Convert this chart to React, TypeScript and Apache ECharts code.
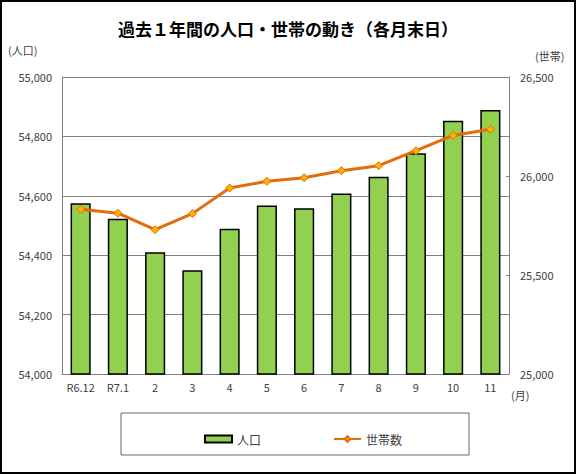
import { useEffect, useRef } from 'react'
import * as echarts from 'echarts'

// 月（カテゴリ）
const months = ['R6.12', 'R7.1', '2', '3', '4', '5', '6', '7', '8', '9', '10', '11']
// 人口（左軸）
const population = [54575, 54523, 54410, 54349, 54489, 54567, 54558, 54608, 54664, 54743, 54853, 54889]
// 世帯数（右軸）
const households = [25832, 25812, 25729, 25810, 25939, 25973, 25991, 26027, 26052, 26128, 26205, 26236]

const FONT = '"Noto Sans CJK JP", "Noto Sans", sans-serif'
const TEXT = '#404040'
const AXIS = '#808080'

/**
 * 過去1年間の人口・世帯の動き
 * 棒グラフ（人口・左軸）＋折れ線（世帯数・右軸）
 */
export default function App() {
  const ref = useRef<HTMLDivElement>(null)

  useEffect(() => {
    if (!ref.current) return
    const chart = echarts.init(ref.current, null, { renderer: 'svg' })

    const option: echarts.EChartsOption = {
      animation: false,
      backgroundColor: '#ffffff',
      textStyle: { fontFamily: FONT },

      title: {
        text: '過去１年間の人口・世帯の動き（各月末日）',
        left: 'center',
        top: 15,
        textStyle: { fontFamily: FONT, fontSize: 17, fontWeight: 'bold', color: '#000' },
      },

      grid: { left: 62, right: 67, top: 77, bottom: 100 },

      legend: {
        left: 199,
        top: 428,
        itemGap: 72,
        itemWidth: 27,
        itemHeight: 7,
        textStyle: { fontFamily: FONT, fontSize: 12, color: TEXT },
        data: [
          { name: '人口', icon: 'rect' },
          { name: '世帯数' },
        ],
      },

      xAxis: {
        type: 'category',
        data: months,
        axisLine: { lineStyle: { color: AXIS, width: 1 } },
        axisTick: { inside: true, length: 3, lineStyle: { color: AXIS } },
        axisLabel: { color: TEXT, fontSize: 11, margin: 7, fontFamily: FONT },
      },

      yAxis: [
        {
          type: 'value',
          min: 54000,
          max: 55000,
          interval: 200,
          axisLine: { show: true, lineStyle: { color: AXIS } },
          axisTick: { show: true, inside: true, length: 3, lineStyle: { color: AXIS } },
          axisLabel: {
            color: TEXT,
            fontSize: 11,
            margin: 10,
            fontFamily: FONT,
            formatter: (v: number) => v.toLocaleString('en-US'),
          },
          splitLine: { lineStyle: { color: AXIS, width: 1 } },
        },
        {
          type: 'value',
          min: 25000,
          max: 26500,
          interval: 500,
          axisLine: { show: true, lineStyle: { color: AXIS } },
          axisTick: { show: true, inside: true, length: 3, lineStyle: { color: AXIS } },
          axisLabel: {
            color: TEXT,
            fontSize: 11,
            margin: 11,
            fontFamily: FONT,
            formatter: (v: number) => v.toLocaleString('en-US'),
          },
          splitLine: { show: false },
        },
      ],

      series: [
        {
          name: '人口',
          type: 'bar',
          data: population,
          yAxisIndex: 0,
          barWidth: '54%',
          itemStyle: { color: '#92D050', borderColor: '#000000', borderWidth: 1.5 },
        },
        {
          name: '世帯数',
          type: 'line',
          data: households,
          yAxisIndex: 1,
          symbol: 'diamond',
          symbolSize: 8,
          lineStyle: { color: '#E46C0A', width: 3 },
          itemStyle: { color: '#FFB000', borderColor: '#E46C0A', borderWidth: 1 },
          z: 3,
        },
      ],

      graphic: [
        // 外枠
        {
          type: 'rect',
          shape: { x: 1, y: 1, width: 574, height: 472 },
          style: { fill: 'none', stroke: '#000', lineWidth: 2 },
          silent: true,
        },
        // 凡例枠
        {
          type: 'rect',
          shape: { x: 121, y: 413, width: 348, height: 42 },
          style: { fill: 'none', stroke: '#666', lineWidth: 1 },
          silent: true,
        },
        {
          type: 'text',
          left: 8,
          top: 44,
          style: { text: '(人口)', font: `11px ${FONT}`, fill: TEXT },
        },
        {
          type: 'text',
          left: 535,
          top: 50,
          style: { text: '(世帯)', font: `11px ${FONT}`, fill: TEXT },
        },
        {
          type: 'text',
          left: 511,
          top: 389,
          style: { text: '(月)', font: `11px ${FONT}`, fill: TEXT },
        },
      ],
    }

    chart.setOption(option)
    return () => chart.dispose()
  }, [])

  return (
    <div
      ref={ref}
      style={{ position: 'absolute', left: 0, top: 0, width: 576, height: 474 }}
    />
  )
}
